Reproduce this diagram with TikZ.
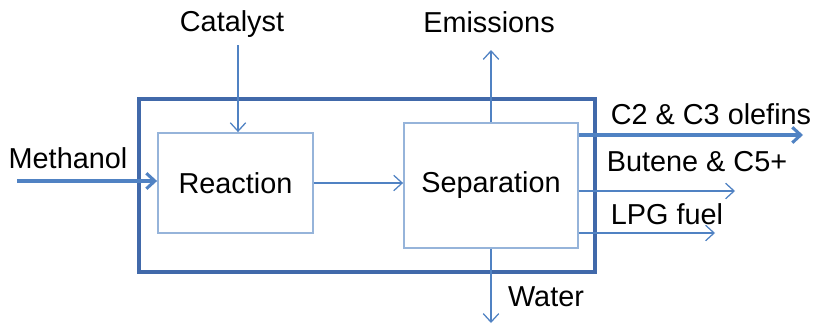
\documentclass[tikz,border=0pt]{standalone}
\usepackage{fontspec}
\setmainfont{Liberation Sans}
\usetikzlibrary{arrows.meta}
\definecolor{outerblue}{RGB}{65,105,170}
\definecolor{innerblue}{RGB}{150,180,218}
\definecolor{flowblue}{RGB}{80,130,195}
\begin{document}
\begin{tikzpicture}[x=0.025cm, y=-0.025cm, >={Straight Barb[length=6pt,width=11pt]},
    unit/.style={draw=innerblue, line width=1.3pt, minimum width=155*0.025cm, minimum height=100*0.025cm, inner sep=0pt, font=\fontsize{20.5}{24}\selectfont},
    lbl/.style={font=\fontsize{20.5}{24}\selectfont, inner sep=0pt},
    flow/.style={->, draw=flowblue, line width=0.9pt},
    mainflow/.style={->, draw=flowblue, line width=2.2pt}]
        \useasboundingbox (0,0) rectangle (815,325);
        % plant boundary
        \draw[outerblue, line width=2.4pt] (139,99) rectangle (595,272);
        \node[unit] (reac) at (235.5,183) {Reaction};
        \node[unit, minimum width=174*0.025cm, minimum height=125*0.025cm] (sep) at (491,185.5) {Separation};
        % labels
        \node[lbl] (meth) at (68,158) {Methanol};
        \node[lbl] (cat) at (232,24) {Catalyst};
        \node[lbl] (emi) at (489,22) {Emissions};
        \node[lbl] (wat) at (546,297) {Water};
        \node[lbl] (ole) at (711,114) {C2 \& C3 olefins};
        \node[lbl] (but) at (697,162) {Butene \& C5+};
        \node[lbl] (lpg) at (667,214) {LPG fuel};
        % end points
        \coordinate (methin) at (17,181);
        \coordinate (catin) at (238,45);
        \coordinate (emiout) at (491,50);
        \coordinate (watout) at (491,323);
        \coordinate (oleout) at (803,135);
        \coordinate (butout) at (735,191);
        \coordinate (lpgout) at (715,233);
        % streams
        \draw[mainflow] (methin) -- (methin -| reac.west);
        \draw[flow] (catin) -- (catin |- reac.north);
        \draw[flow] (reac.east |- 0,183) -- (sep.west |- 0,183);
        \draw[flow] (sep.north) -- (emiout);
        \draw[flow] (sep.south) -- (watout);
        \draw[mainflow] (oleout -| sep.east) -- (oleout);
        \draw[flow] (butout -| sep.east) -- (butout);
        \draw[flow] (lpgout -| sep.east) -- (lpgout);
    \end{tikzpicture}
\end{document}
